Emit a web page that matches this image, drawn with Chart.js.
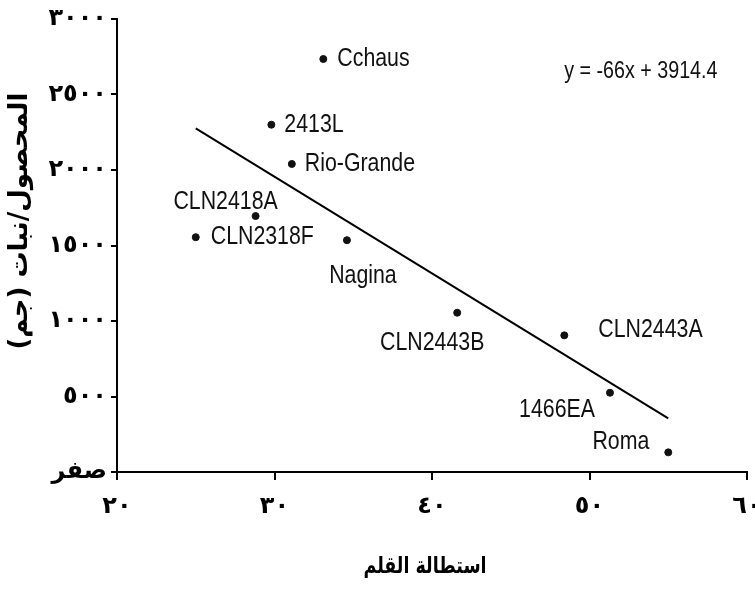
<!DOCTYPE html>
<html lang="ar">
<head>
<meta charset="utf-8">
<script src="https://cdn.jsdelivr.net/npm/chart.js@4.4.1/dist/chart.umd.min.js"></script>
<style>
  html, body { margin: 0; padding: 0; background: #fff; }
  canvas { display: block; }
</style>
</head>
<body>
<canvas id="myChart" width="755" height="593"></canvas>
<script>
//Values
let varieties = ["Cchaus", "2413L", "Rio-Grande", "CLN2418A", "CLN2318F", "Nagina", "CLN2443B", "CLN2443A", "1466EA", "Roma"];
let elongation = [33.1, 29.8, 31.1, 28.8, 25.0, 34.6, 41.6, 48.4, 51.3, 55.0];
let yieldPerPlant = [2735, 2300, 2040, 1695, 1555, 1535, 1055, 905, 525, 130];
let trendX = [25, 55];
let trendY = [2275, 355];
let equation = "y = -66x + 3914.4";
let xTickLabels = ["٢٠", "٣٠", "٤٠", "٥٠", "٦٠"];
let yTickLabels = ["صفر", "٥٠٠", "١٠٠٠", "١٥٠٠", "٢٠٠٠", "٢٥٠٠", "٣٠٠٠"];
let xTitle = "استطالة القلم";
let yTitle = "المحصول/نبات (جم)";

//Where each name sits next to its dot: dx, dy (px), alignment
let labelSpots = [
  [14, 0, "left"],
  [13, 0, "left"],
  [13, 0, "left"],
  [-30, -14, "center"],
  [15, 0, "left"],
  [16, 36, "center"],
  [-25, 30, "center"],
  [34, -6, "left"],
  [-15, 17, "right"],
  [-19, -11, "right"],
];

let arabicFont = "'DejaVu Sans', sans-serif";

//Draws horizontally squeezed text (the scan uses a narrow face)
function narrowText(ctx, text, x, y, align, squeeze) {
  ctx.save();
  ctx.translate(x, y);
  ctx.scale(squeeze || 0.82, 1);
  ctx.textAlign = align;
  ctx.fillText(text, 0, 0);
  ctx.restore();
}

let labelsPlugin = {
  id: "pointNames",
  afterDatasetsDraw(chart) {
    let ctx = chart.ctx;
    let xs = chart.scales.x, ys = chart.scales.y;
    ctx.save();
    ctx.fillStyle = "#111";
    ctx.textBaseline = "middle";
    ctx.font = "26px 'Liberation Sans', Arial, sans-serif";
    varieties.forEach((name, i) => {
      let px = xs.getPixelForValue(elongation[i]);
      let py = ys.getPixelForValue(yieldPerPlant[i]);
      let spot = labelSpots[i];
      narrowText(ctx, name, px + spot[0], py + spot[1], spot[2]);
    });
    ctx.font = "24px 'Liberation Sans', Arial, sans-serif";
    narrowText(ctx, equation, xs.getPixelForValue(48.4), ys.getPixelForValue(2650), "left");

    //axis titles
    ctx.fillStyle = "#000";
    ctx.direction = "rtl";
    ctx.font = "bold 23px " + arabicFont;
    narrowText(ctx, xTitle, 425, 567, "center", 0.76);
    ctx.textAlign = "center";
    ctx.font = "bold 26px " + arabicFont;
    ctx.translate(20, 221);
    ctx.rotate(-Math.PI / 2);
    ctx.fillText(yTitle, 0, 0);
    ctx.restore();
  },
};

let ctx = document.getElementById("myChart").getContext("2d");
let myChart = new Chart(ctx, {
  type: "scatter",
  data: {
    datasets: [
      {
        type: "line",
        data: trendX.map((x, i) => ({ x: x, y: trendY[i] })),
        borderColor: "#000",
        borderWidth: 2,
        pointRadius: 0,
        showLine: true,
        fill: false,
      },
      {
        data: elongation.map((x, i) => ({ x: x, y: yieldPerPlant[i] })),
        backgroundColor: "#111",
        borderColor: "#111",
        pointRadius: 3.5,
      },
    ],
  },
  options: {
    responsive: false,
    animation: false,
    layout: { padding: { top: 19, right: 8, left: 0, bottom: 0 } },
    plugins: { legend: { display: false }, tooltip: { enabled: false } },
    scales: {
      x: {
        type: "linear",
        min: 20,
        max: 60,
        ticks: {
          stepSize: 10,
          color: "#000",
          padding: 12,
          font: { family: arabicFont, size: 24, weight: "bold" },
          callback: (v) => xTickLabels[Math.round((v - 20) / 10)],
        },
        grid: { drawOnChartArea: false, tickLength: 8, color: "#000", lineWidth: 2 },
        border: { color: "#000", width: 2 },
        afterFit: (s) => {
          s.paddingLeft = 0;
          s.paddingRight = 0;
          s.height = 121;
        },
      },
      y: {
        min: 0,
        max: 3000,
        ticks: {
          stepSize: 500,
          color: "#000",
          padding: 4,
          font: { family: arabicFont, size: 24, weight: "bold" },
          callback: (v) => yTickLabels[Math.round(v / 500)],
        },
        grid: { drawOnChartArea: false, tickLength: 6, color: "#000", lineWidth: 2 },
        border: { color: "#000", width: 2 },
        afterFit: (s) => {
          s.paddingTop = 0;
          s.paddingBottom = 0;
          s.width = 117;
        },
      },
    },
  },
  plugins: [labelsPlugin],
});
</script>
</body>
</html>
